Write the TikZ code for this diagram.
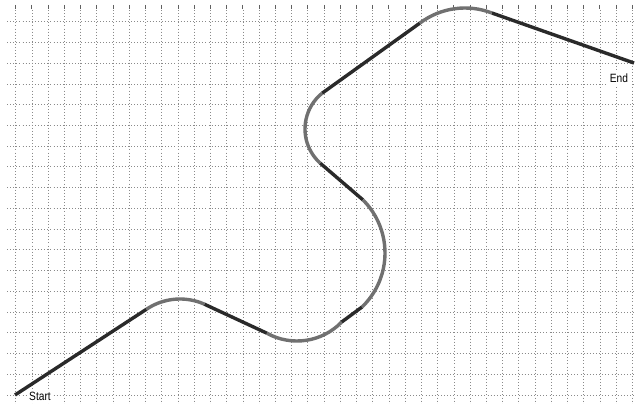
\documentclass[tikz,border=0pt]{standalone}
\usepackage{fontspec}
\setmainfont{Liberation Sans}
\definecolor{segdark}{HTML}{2A2A2A}
\definecolor{seggray}{HTML}{707070}
\definecolor{gridgray}{HTML}{8A8A8A}
\begin{document}
\begin{tikzpicture}[x=1pt,y=-1pt,
  gridline/.style={gridgray,line width=0.8pt,dash pattern=on 0.9pt off 2.2pt},
  gridtick/.style={gridgray!70!black,line width=1pt},
  darkseg/.style={segdark,line width=3.4pt},
  grayseg/.style={seggray,line width=3.4pt},
  lbl/.style={fill=white,inner sep=2.5pt,font=\fontsize{12}{13}\selectfont}]
\useasboundingbox (0,0) rectangle (635,404);
\fill[white] (0,0) rectangle (635,404);
% grid
\foreach \i in {0,...,38}{
  \draw[gridline] ({15.7+16.23*\i},10) -- ({15.7+16.23*\i},404);
  \draw[gridtick] ({15.7+16.23*\i},5) -- ({15.7+16.23*\i},9.5);
}
\foreach \j in {0,...,18}
  \draw[gridline] (7,{21.7+20.74*\j}) -- (635,{21.7+20.74*\j});
% labels
\node[lbl] (startlbl) at (40,396) {\scalebox{0.85}[1]{Start}};
\node[lbl] (endlbl) at (619,78) {\scalebox{0.85}[1]{End}};
% geometry
\coordinate (start) at (15,395);
\coordinate (finish) at (634,63);
\coordinate (c1) at (180,359);
\coordinate (c2) at (297,279);
\coordinate (c3) at (310,253);
\coordinate (c4) at (351,129);
\coordinate (c5) at (465,83);
\path (c1) ++(236:60) coordinate (a1s);
\path (c1) ++(294:60) coordinate (a1e);
\path (c2) ++(119:62) coordinate (a2s);
\path (c2) ++(44:62) coordinate (a2e);
\path (c3) ++(46:75) coordinate (a3s);
\path (c3) ++(-45:75) coordinate (a3e);
\path (c4) ++(132:46) coordinate (a4s);
\path (c4) ++(231:46) coordinate (a4e);
\path (c5) ++(233:75) coordinate (a5s);
\path (c5) ++(291:75) coordinate (a5e);
% straight segments
\draw[darkseg] (start) -- (a1s);
\draw[darkseg] (a1e) -- (a2s);
\draw[darkseg] (a2e) -- (a3s);
\draw[darkseg] (a3e) -- (a4s);
\draw[darkseg] (a4e) -- (a5s);
\draw[darkseg] (a5e) -- (finish);
% arcs
\draw[grayseg] (a1s) arc[start angle=236,end angle=294,radius=60];
\draw[grayseg] (a2s) arc[start angle=119,end angle=44,radius=62];
\draw[grayseg] (a3s) arc[start angle=46,end angle=-45,radius=75];
\draw[grayseg] (a4s) arc[start angle=132,end angle=231,radius=46];
\draw[grayseg] (a5s) arc[start angle=233,end angle=291,radius=75];
\end{tikzpicture}
\end{document}
